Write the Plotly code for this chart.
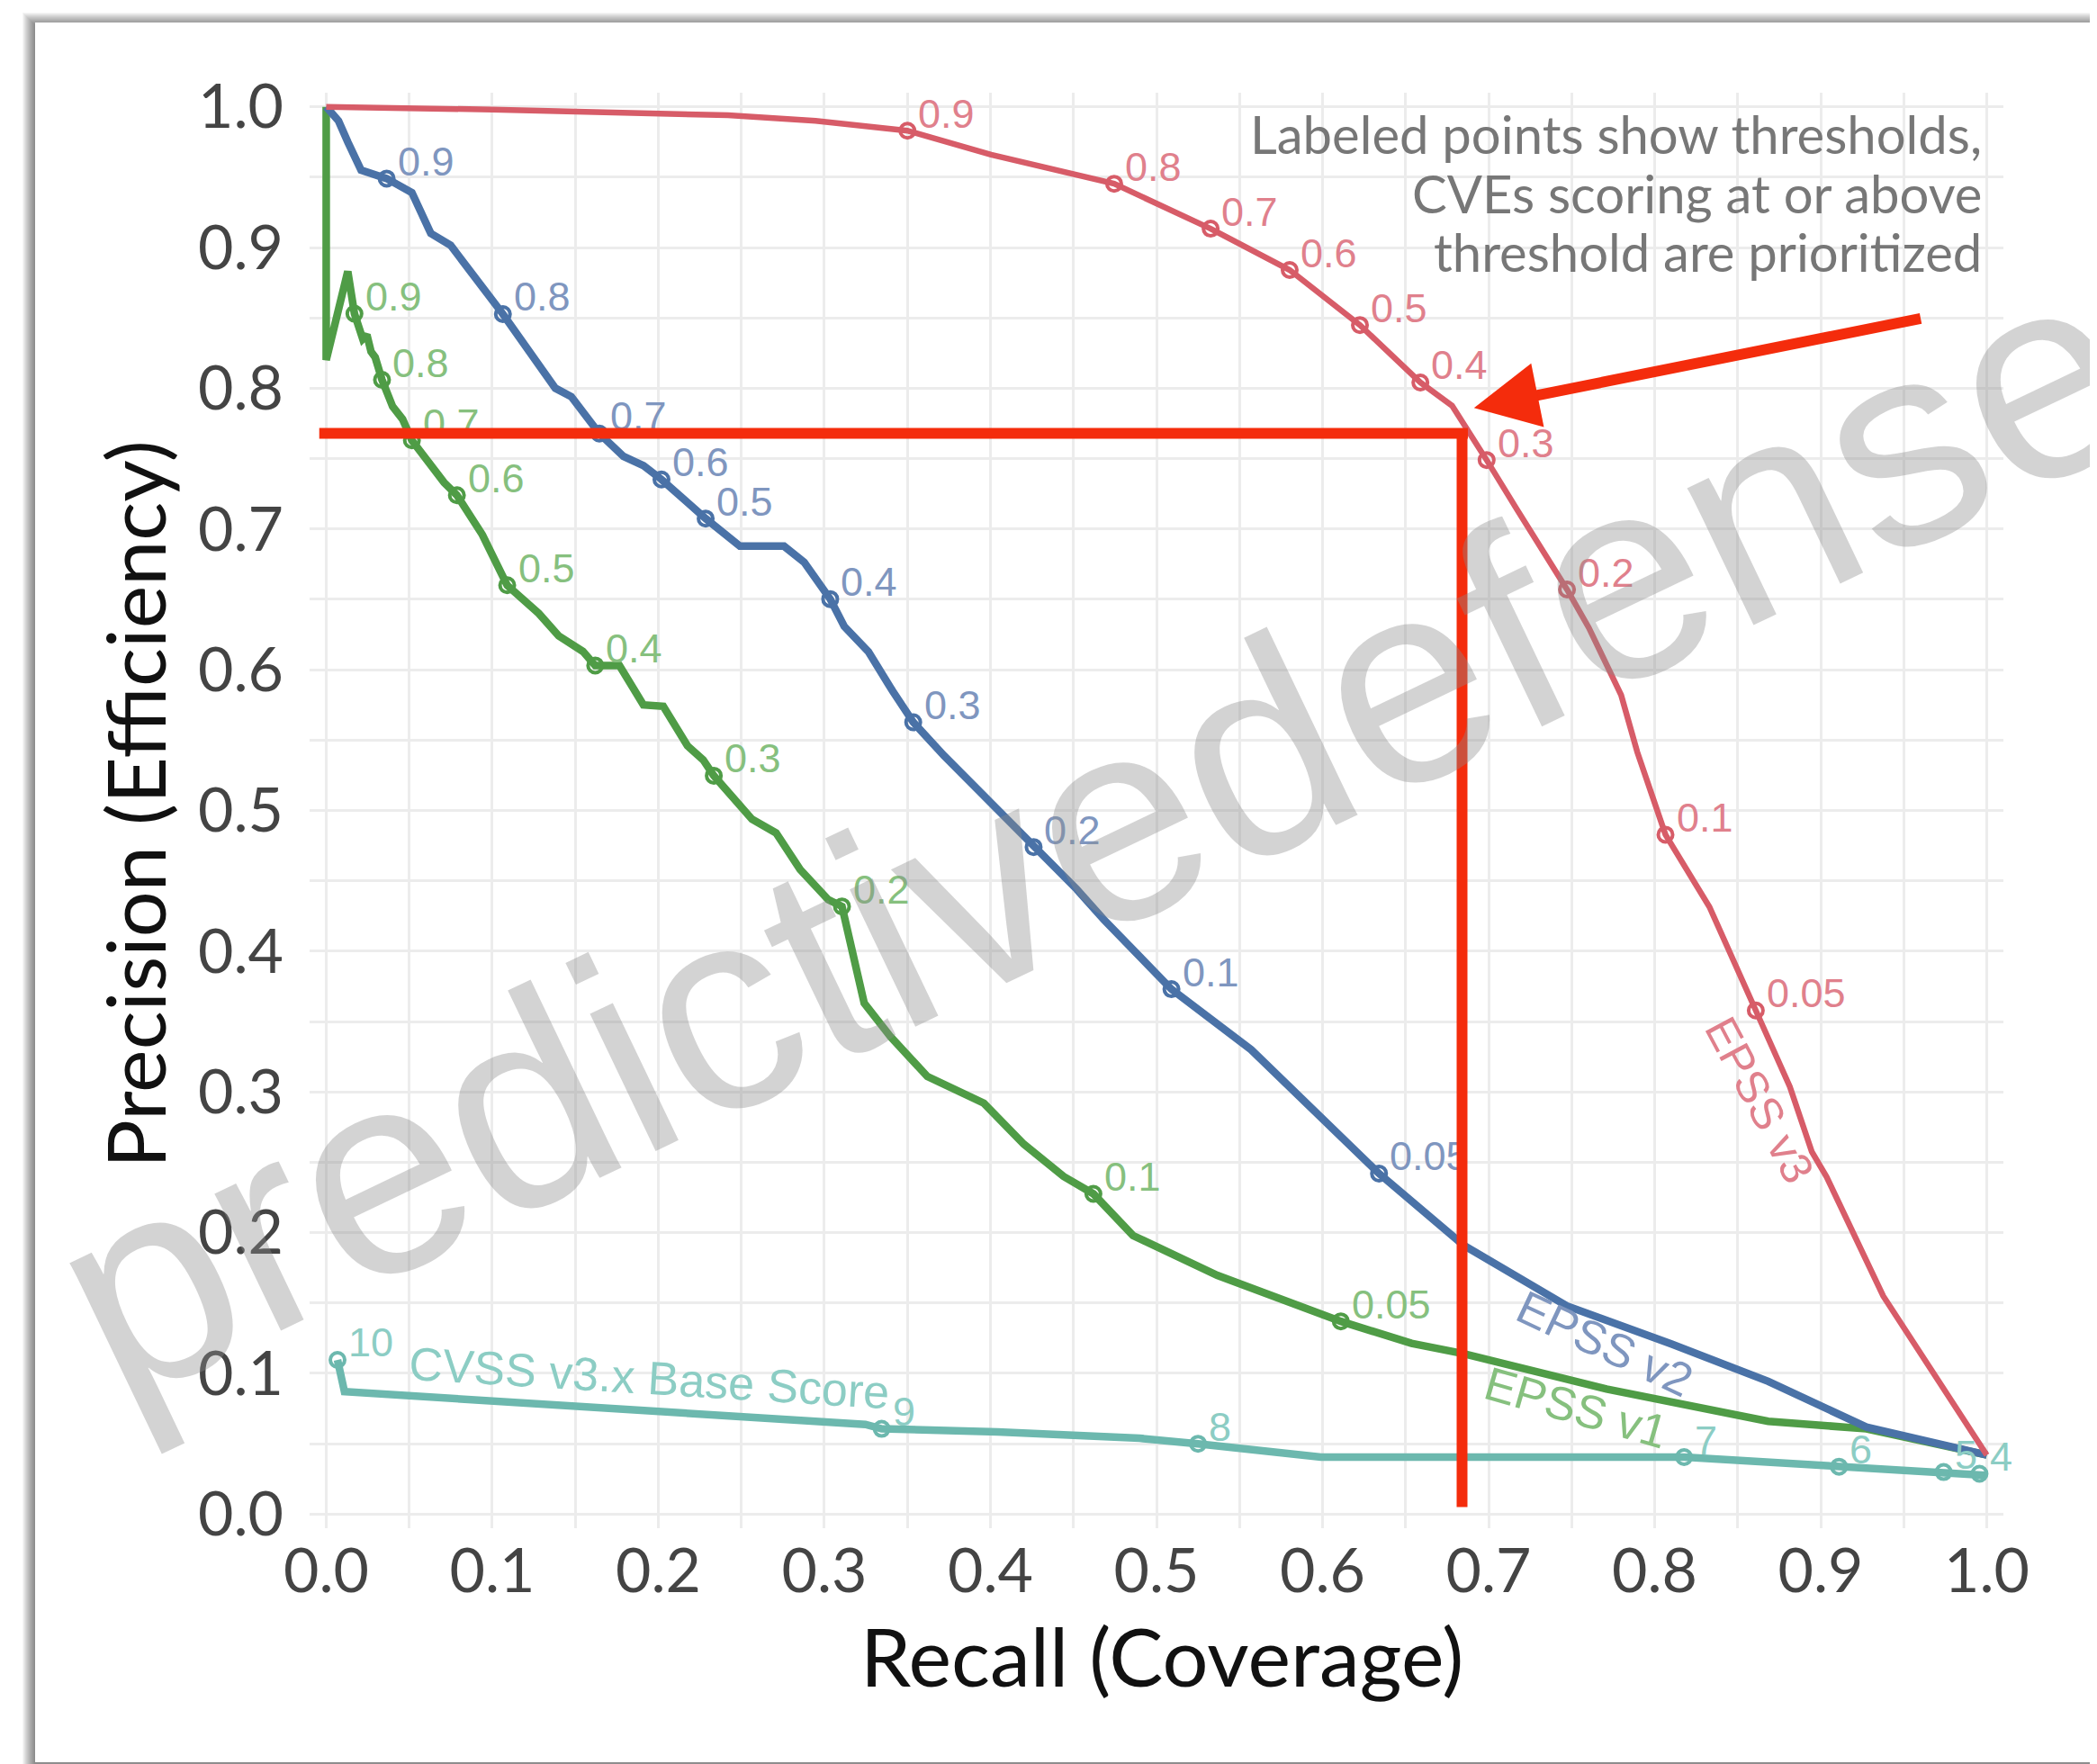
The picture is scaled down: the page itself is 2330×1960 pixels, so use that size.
import plotly.graph_objects as go

# ---------------- data ----------------
v3_x = [0.0, 0.10, 0.2419, 0.2947, 0.350, 0.4004, 0.4745, 0.5326, 0.5802, 0.6225, 0.6589, 0.678,
        0.6988, 0.712, 0.717, 0.7472, 0.7604, 0.7798, 0.7895, 0.8065, 0.833, 0.8609, 0.8814,
        0.8946, 0.9035, 0.9376, 1.0]
v3_y = [1.0, 0.998, 0.994, 0.990, 0.983, 0.966, 0.9453, 0.9134, 0.884, 0.8449, 0.8041, 0.7876,
        0.749, 0.725, 0.714, 0.657, 0.6297, 0.582, 0.5416, 0.4828, 0.4314, 0.3579, 0.3037,
        0.2576, 0.2397, 0.155, 0.042]
v3_thr = ["0.9", "0.8", "0.7", "0.6", "0.5", "0.4", "0.3", "0.2", "0.1", "0.05"]
v3_tx = [0.350, 0.4745, 0.5326, 0.5802, 0.6225, 0.6589, 0.6988, 0.7472, 0.8065, 0.8609]
v3_ty = [0.983, 0.9453, 0.9134, 0.884, 0.8449, 0.8041, 0.749, 0.657, 0.4828, 0.3579]

v2_x = [0.0, 0.0074, 0.013, 0.021, 0.0364, 0.0516, 0.063, 0.0749, 0.1064, 0.138, 0.1476, 0.1645,
        0.1791, 0.1911, 0.2019, 0.220, 0.2285, 0.2491, 0.2757, 0.2878, 0.3035, 0.312, 0.3265,
        0.341, 0.3535, 0.372, 0.408, 0.426, 0.452, 0.4686, 0.509, 0.557, 0.593, 0.634, 0.685,
        0.747, 0.81, 0.8684, 0.9275, 1.0]
v2_y = [1.0, 0.990, 0.975, 0.955, 0.949, 0.939, 0.910, 0.9016, 0.8527, 0.800, 0.794, 0.7678,
        0.7515, 0.745, 0.7352, 0.7156, 0.7074, 0.6878, 0.6878, 0.6764, 0.6502, 0.6307, 0.6128,
        0.585, 0.5627, 0.539, 0.496, 0.474, 0.444, 0.422, 0.373, 0.330, 0.289, 0.242, 0.191,
        0.148, 0.121, 0.0943, 0.0618, 0.042]
v2_thr = ["0.9", "0.8", "0.7", "0.6", "0.5", "0.4", "0.3", "0.2", "0.1", "0.05"]
v2_tx = [0.0364, 0.1064, 0.1645, 0.2019, 0.2285, 0.3035, 0.3535, 0.426, 0.509, 0.634]
v2_ty = [0.949, 0.8527, 0.7678, 0.7352, 0.7074, 0.6502, 0.5627, 0.474, 0.373, 0.242]

v1_x = [0.0, 0.0, 0.013, 0.017, 0.022, 0.0245, 0.027, 0.0295, 0.0336, 0.040, 0.046, 0.0516, 0.071,
        0.0787, 0.094, 0.109, 0.128, 0.140, 0.1546, 0.162, 0.1766, 0.191, 0.203, 0.2175, 0.227,
        0.2334, 0.2564, 0.2709, 0.2854, 0.3023, 0.3106, 0.324, 0.340, 0.362, 0.396, 0.420, 0.444,
        0.462, 0.4858, 0.5366, 0.611, 0.6536, 0.685, 0.771, 0.8684, 0.9275, 1.0]
v1_y = [1.0, 0.82, 0.883, 0.853, 0.835, 0.838, 0.826, 0.822, 0.806, 0.787, 0.778, 0.763, 0.733,
        0.724, 0.696, 0.660, 0.640, 0.624, 0.613, 0.603, 0.603, 0.575, 0.574, 0.546, 0.536,
        0.5247, 0.4938, 0.484, 0.458, 0.4366, 0.4318, 0.363, 0.339, 0.311, 0.292, 0.263, 0.240,
        0.2276, 0.198, 0.1697, 0.137, 0.1213, 0.114, 0.0889, 0.066, 0.0606, 0.042]
v1_thr = ["0.9", "0.8", "0.7", "0.6", "0.5", "0.4", "0.3", "0.2", "0.1", "0.05"]
v1_tx = [0.017, 0.0336, 0.0516, 0.0787, 0.109, 0.162, 0.2334, 0.3106, 0.462, 0.611]
v1_ty = [0.853, 0.806, 0.763, 0.724, 0.660, 0.603, 0.5247, 0.4318, 0.2276, 0.137]

cvss_x = [0.0068, 0.011, 0.3247, 0.3345, 0.4043, 0.4898, 0.525, 0.599, 0.8177, 0.911, 0.974, 0.9956, 0.9994]
cvss_y = [0.1096, 0.087, 0.0637, 0.0606, 0.0585, 0.0539, 0.050, 0.0405, 0.0405, 0.0337, 0.0299, 0.0287, 0.0276]
cvss_thr = ["10", "9", "8", "7", "6", "5", "4"]
cvss_tx = [0.0068, 0.3345, 0.525, 0.8177, 0.911, 0.974, 0.9956]
cvss_ty = [0.1096, 0.0606, 0.050, 0.0405, 0.0337, 0.0299, 0.0287]

threshold_recall = 0.684
threshold_precision = 0.768

tick_vals = [0.0, 0.1, 0.2, 0.3, 0.4, 0.5, 0.6, 0.7, 0.8, 0.9, 1.0]
tick_text = ["0.0", "0.1", "0.2", "0.3", "0.4", "0.5", "0.6", "0.7", "0.8", "0.9", "1.0"]

# ---------------- layout geometry ----------------
W, H = 2330, 1960
ML, MR, MT, MB = 336, 112, 95, 270
PW, PH = W - ML - MR, H - MT - MB


def px(x):
    return (x - ML) / PW


def py(y):
    return (H - MB - y) / PH


LABEL_FONT = "Liberation Sans, Arial, sans-serif"
MAIN_FONT = "Lato, Noto Sans, sans-serif"
GUIDE_RED = "#f42c0c"

series = [
    dict(x=cvss_x, y=cvss_y, tx=cvss_tx, ty=cvss_ty, t=cvss_thr, c="#6cb8ae", lc="#8ccdc4", w=8.5),
    dict(x=v1_x, y=v1_y, tx=v1_tx, ty=v1_ty, t=v1_thr, c="#4f9c46", lc="#86c07e", w=8.5),
    dict(x=v2_x, y=v2_y, tx=v2_tx, ty=v2_ty, t=v2_thr, c="#4a72a7", lc="#7f96bf", w=8.5),
    dict(x=v3_x, y=v3_y, tx=v3_tx, ty=v3_ty, t=v3_thr, c="#d75c68", lc="#e0808c", w=6.5),
]

fig = go.Figure()
for s in series:
    fig.add_trace(go.Scatter(x=s["x"], y=s["y"], mode="lines",
                             line=dict(color=s["c"], width=s["w"]),
                             hoverinfo="skip", cliponaxis=False))
for s in series:
    fig.add_trace(go.Scatter(x=s["tx"], y=s["ty"], mode="markers",
                             marker=dict(symbol="circle-open", size=16, color=s["c"],
                                         line=dict(width=4, color=s["c"])),
                             hoverinfo="skip", cliponaxis=False))

# ---------------- card + shadow ----------------
shapes = []
cx0, cy0, cx1, cy1 = 31, 17, 2327, 1950
for k in range(14, 0, -1):
    shapes.append(dict(type="rect", xref="paper", yref="paper", layer="below",
                       x0=px(cx0 - k), x1=px(cx1 + k), y0=py(cy1 + k + 2), y1=py(cy0 - k + 3),
                       line=dict(width=0), fillcolor="rgba(0,0,0,0.04)"))
shapes.append(dict(type="rect", xref="paper", yref="paper", layer="below",
                   x0=px(cx0), x1=px(cx1), y0=py(cy1), y1=py(cy0),
                   line=dict(width=0), fillcolor="white"))

annotations = []
# threshold labels next to the markers
for s in series:
    for xv, yv, t in zip(s["tx"], s["ty"], s["t"]):
        annotations.append(dict(text=t, x=xv, y=yv, xref="x", yref="y", showarrow=False,
                                xanchor="left", yanchor="middle", xshift=10, yshift=19,
                                font=dict(family=LABEL_FONT, size=45, color=s["lc"])))

# red threshold guide lines (drawn over the labels)
annotations.append(dict(text="", x=threshold_recall + 0.0035, y=threshold_precision,
                        ax=-0.005, ay=threshold_precision, xref="x", yref="y", axref="x", ayref="y",
                        showarrow=True, arrowhead=0, arrowwidth=12, arrowcolor=GUIDE_RED,
                        standoff=0, startstandoff=0, font=dict(size=1)))
annotations.append(dict(text="", x=threshold_recall, y=0.005,
                        ax=threshold_recall, ay=threshold_precision + 0.004, xref="x", yref="y",
                        axref="x", ayref="y",
                        showarrow=True, arrowhead=0, arrowwidth=12, arrowcolor=GUIDE_RED,
                        standoff=0, startstandoff=0, font=dict(size=1)))

# axis titles
annotations.append(dict(text="Recall (Coverage)", x=px(1283), y=py(1831), xref="paper", yref="paper",
                        showarrow=False, xanchor="center", yanchor="middle",
                        font=dict(family=MAIN_FONT, size=90, color="#111111")))
annotations.append(dict(text="Precision (Efficiency)", x=px(141), y=py(886), xref="paper", yref="paper",
                        showarrow=False, xanchor="center", yanchor="middle", textangle=-90,
                        font=dict(family=MAIN_FONT, size=90, color="#111111")))
# note
note_lines = ["Labeled points show thresholds,", "CVEs scoring at or above", "threshold are prioritized"]
note_y = [0.981, 0.9386, 0.897]
for t, yv in zip(note_lines, note_y):
    annotations.append(dict(text=t, x=0.998, y=yv, xref="x", yref="y", showarrow=False,
                            xanchor="right", yanchor="middle",
                            font=dict(family=MAIN_FONT, size=58, color="#777777")))
# series labels
annotations.append(dict(text="EPSS v3", x=0.863, y=0.2944, xref="x", yref="y", showarrow=False,
                        textangle=62, font=dict(family=LABEL_FONT, size=50, color="#e0808c")))
annotations.append(dict(text="EPSS v2", x=0.770, y=0.1208, xref="x", yref="y", showarrow=False,
                        textangle=25, font=dict(family=LABEL_FONT, size=52, color="#7f96bf")))
annotations.append(dict(text="EPSS v1", x=0.7526, y=0.0754, xref="x", yref="y", showarrow=False,
                        textangle=16, font=dict(family=LABEL_FONT, size=52, color="#86c07e")))
annotations.append(dict(text="CVSS v3.x Base Score", x=0.1946, y=0.0965, xref="x", yref="y",
                        showarrow=False, textangle=3.5,
                        font=dict(family=LABEL_FONT, size=52, color="#8ccdc4")))
# arrow
annotations.append(dict(text="", x=0.6912, y=0.786, xref="x", yref="y", ax=0.961, ay=0.8498,
                        axref="x", ayref="y", showarrow=True, arrowhead=2, arrowsize=1.2,
                        arrowwidth=12, arrowcolor=GUIDE_RED, standoff=0, font=dict(size=1)))
# watermark
annotations.append(dict(text="predictivedefense", x=0.462, y=0.485, xref="x", yref="y",
                        showarrow=False, textangle=-25.6, xanchor="center", yanchor="middle",
                        font=dict(family=LABEL_FONT, size=320, color="rgba(140,140,140,0.38)")))

axis_common = dict(range=[-0.01, 1.01], tickvals=tick_vals, ticktext=tick_text,
                   showgrid=True, gridcolor="#ececec", gridwidth=3,
                   minor=dict(dtick=0.05, tick0=0, showgrid=True, gridcolor="#ececec", gridwidth=3),
                   zeroline=False, showline=False, ticks="",
                   tickfont=dict(family=MAIN_FONT, size=68, color="#444444"))

fig.update_layout(width=W, height=H, margin=dict(l=ML, r=MR, t=MT, b=MB),
                  paper_bgcolor="white", plot_bgcolor="rgba(0,0,0,0)",
                  showlegend=False, shapes=shapes, annotations=annotations,
                  xaxis=dict(**axis_common, ticklabelstandoff=2),
                  yaxis=dict(**axis_common, ticklabelstandoff=28))

fig.write_html("out.html")
